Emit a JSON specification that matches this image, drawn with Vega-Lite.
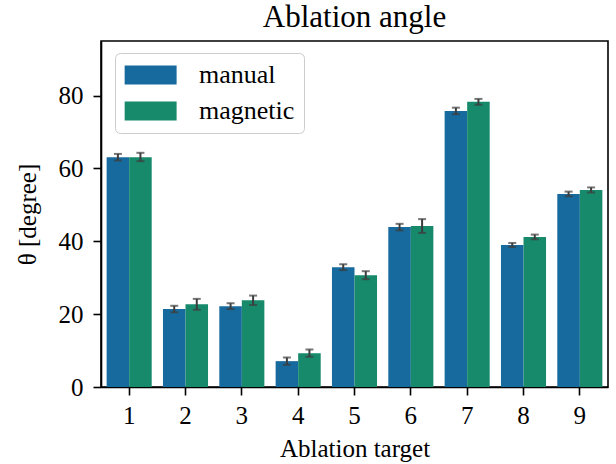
{
  "$schema": "https://vega.github.io/schema/vega-lite/v6.json",
  "autosize": {"type": "none"},
  "width": 507,
  "height": 346,
  "padding": {"left": 101, "top": 41, "right": 8, "bottom": 77},
  "background": "white",
  "title": {"text": "Ablation angle", "font": "Liberation Serif", "fontSize": 31, "fontWeight": "normal", "color": "#000", "offset": 7},
  "config": {
    "font": "Liberation Serif",
    "view": {"stroke": "#000", "strokeWidth": 1.6},
    "axis": {"domainColor": "#000", "tickColor": "#000", "labelColor": "#000", "titleColor": "#000", "labelFont": "Liberation Serif", "titleFont": "Liberation Serif", "labelFontSize": 25, "titleFontSize": 25, "titleFontWeight": "normal", "grid": false, "tickSize": 8, "tickWidth": 1.6, "domainWidth": 1.6}
  },
  "data": {"values": [
    {"target": "1", "method": "manual", "value": 63.1, "lo": 62.2, "hi": 64.0},
    {"target": "1", "method": "magnetic", "value": 63.1, "lo": 62.0, "hi": 64.3},
    {"target": "2", "method": "manual", "value": 21.4, "lo": 20.5, "hi": 22.3},
    {"target": "2", "method": "magnetic", "value": 22.7, "lo": 21.2, "hi": 24.2},
    {"target": "3", "method": "manual", "value": 22.2, "lo": 21.4, "hi": 23.0},
    {"target": "3", "method": "magnetic", "value": 23.8, "lo": 22.5, "hi": 25.1},
    {"target": "4", "method": "manual", "value": 7.1, "lo": 6.1, "hi": 8.1},
    {"target": "4", "method": "magnetic", "value": 9.3, "lo": 8.3, "hi": 10.3},
    {"target": "5", "method": "manual", "value": 32.9, "lo": 32.1, "hi": 33.7},
    {"target": "5", "method": "magnetic", "value": 30.7, "lo": 29.6, "hi": 31.8},
    {"target": "6", "method": "manual", "value": 43.9, "lo": 43.0, "hi": 44.8},
    {"target": "6", "method": "magnetic", "value": 44.2, "lo": 42.3, "hi": 46.1},
    {"target": "7", "method": "manual", "value": 75.8, "lo": 74.9, "hi": 76.7},
    {"target": "7", "method": "magnetic", "value": 78.3, "lo": 77.5, "hi": 79.1},
    {"target": "8", "method": "manual", "value": 39.0, "lo": 38.45, "hi": 39.55},
    {"target": "8", "method": "magnetic", "value": 41.2, "lo": 40.55, "hi": 41.85},
    {"target": "9", "method": "manual", "value": 53.0, "lo": 52.35, "hi": 53.65},
    {"target": "9", "method": "magnetic", "value": 54.1, "lo": 53.4, "hi": 54.8}
  ]},
  "encoding": {
    "x": {"field": "target", "type": "nominal", "scale": {"paddingInner": 0.2, "paddingOuter": 0.1}, "axis": {"title": "Ablation target", "labelAngle": 0, "labelPadding": 8, "titlePadding": 8}},
    "xOffset": {"field": "method", "type": "nominal", "sort": ["manual", "magnetic"], "scale": {"paddingInner": 0, "paddingOuter": 0}}
  },
  "layer": [
    {
      "mark": {"type": "bar"},
      "encoding": {
        "y": {"field": "value", "type": "quantitative", "scale": {"domain": [0, 95], "nice": false}, "axis": {"title": "θ [degree]", "values": [0, 20, 40, 60, 80], "labelPadding": 10, "titlePadding": 18}},
        "color": {"field": "method", "type": "nominal", "sort": ["manual", "magnetic"], "scale": {"domain": ["manual", "magnetic"], "range": ["#176a9d", "#168a6b"]},
          "legend": {"title": null, "orient": "none", "legendX": 14, "legendY": 12, "zindex": 1, "symbolType": "M-1.3,-1H4.17V1H-1.3Z", "symbolSize": 361, "symbolStrokeWidth": 0, "labelFontSize": 26, "labelFont": "Liberation Serif", "labelColor": "#000", "labelOffset": 49, "rowPadding": 10, "padding": 9, "fillColor": "white", "strokeColor": "#cccccc", "cornerRadius": 5, "symbolOpacity": 1}}
      }
    },
    {
      "mark": {"type": "rule", "color": "#3d3d3d", "strokeWidth": 2},
      "encoding": {"y": {"field": "lo", "type": "quantitative"}, "y2": {"field": "hi"}}
    },
    {
      "mark": {"type": "tick", "color": "#3d3d3d", "thickness": 2, "size": 8},
      "encoding": {"y": {"field": "lo", "type": "quantitative"}}
    },
    {
      "mark": {"type": "tick", "color": "#3d3d3d", "thickness": 2, "size": 8},
      "encoding": {"y": {"field": "hi", "type": "quantitative"}}
    }
  ]
}
